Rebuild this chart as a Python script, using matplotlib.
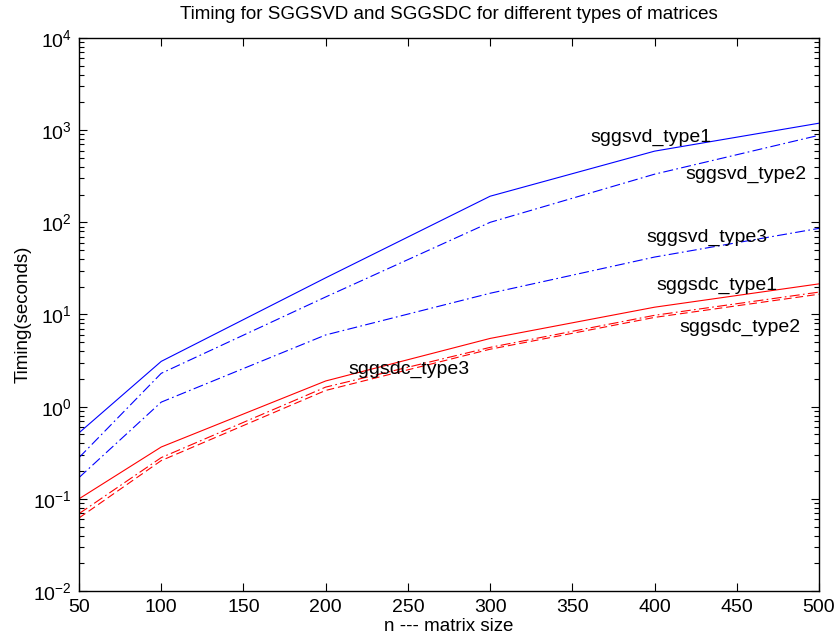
import numpy as np
import matplotlib
matplotlib.use('Agg')
import matplotlib.pyplot as plt
from matplotlib.ticker import LogLocator, NullFormatter

plt.rcParams['font.family'] = ['Liberation Sans', 'DejaVu Sans']

# Matrix sizes and timings (seconds).
n = [50, 100, 200, 300, 400, 500]
sggsvd_type1 = [0.52, 3.1, 25, 192, 592, 1190]
sggsvd_type2 = [0.28, 2.3, 15.5, 100, 333, 880]
sggsvd_type3 = [0.17, 1.12, 6.0, 17, 42, 86]
sggsdc_type1 = [0.10, 0.365, 1.9, 5.5, 12, 21.5]
sggsdc_type2 = [0.069, 0.28, 1.63, 4.4, 9.8, 17.5]
sggsdc_type3 = [0.062, 0.26, 1.5, 4.2, 9.3, 16.6]

# Curve labels: (text, x, y)
labels = [
    ('sggsvd_type1', 361, 840),
    ('sggsvd_type2', 419, 333),
    ('sggsvd_type3', 395, 69),
    ('sggsdc_type1', 401, 20.8),
    ('sggsdc_type2', 415, 7.3),
    ('sggsdc_type3', 214, 2.56),
]

fig = plt.figure(figsize=(8.38, 6.41), dpi=100)
ax = fig.add_axes([79/838, 50/641, 740/838, 553/641])

dashdot = (0, (9, 3, 1.5, 3))
dashed = (0, (7, 3.5))
ax.plot(n, sggsvd_type1, color='b', lw=0.8, linestyle='-')
ax.plot(n, sggsvd_type2, color='b', lw=0.8, linestyle=dashdot)
ax.plot(n, sggsvd_type3, color='b', lw=0.8, linestyle=dashdot)
ax.plot(n, sggsdc_type1, color='r', lw=0.8, linestyle='-')
ax.plot(n, sggsdc_type2, color='r', lw=0.8, linestyle=dashdot)
ax.plot(n, sggsdc_type3, color='r', lw=0.8, linestyle=dashed)

for txt, x, y in labels:
    ax.text(x, y, txt, fontsize=14, ha='left', va='center')

ax.set_yscale('log')
ax.set_xlim(50, 500)
ax.set_ylim(1e-2, 1e4)
ax.set_xticks(np.arange(50, 501, 50))
ax.yaxis.set_major_locator(LogLocator(base=10, numticks=10))
ax.yaxis.set_minor_locator(LogLocator(base=10, subs=np.arange(2, 10), numticks=10))
ax.yaxis.set_minor_formatter(NullFormatter())

ax.tick_params(which='both', direction='in', top=True, right=True, labelsize=14)
ax.tick_params(which='major', length=6, width=0.8)
ax.tick_params(which='minor', length=3.5, width=0.8)
ax.tick_params(axis='x', pad=6)
ax.tick_params(axis='y', pad=5)
for s in ax.spines.values():
    s.set_linewidth(1.0)

ax.set_title('Timing for SGGSVD and SGGSDC for different types of matrices', fontsize=13.5, pad=14)
ax.set_xlabel('n --- matrix size', fontsize=13.5, labelpad=1)
ax.set_ylabel('Timing(seconds)', fontsize=13.5, labelpad=1)

fig.savefig('out.png', dpi=100)
